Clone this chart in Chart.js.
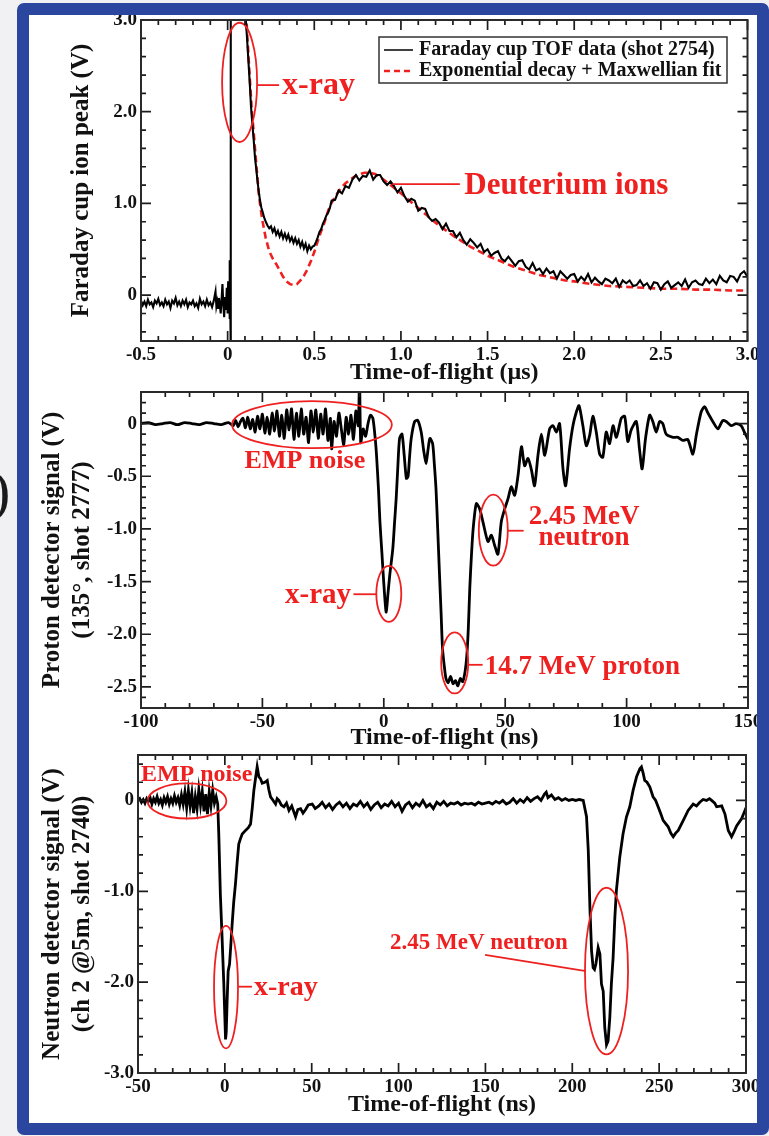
<!DOCTYPE html>
<html><head><meta charset="utf-8">
<script src="https://cdn.jsdelivr.net/npm/chart.js@4.4.1/dist/chart.umd.min.js"></script>
<style>
html,body{margin:0;padding:0;background:#f1f1f3;width:769px;height:1136px;overflow:hidden;}
#inner{position:absolute;left:29px;top:15px;width:728px;height:1108px;background:#fff;z-index:0;}
#frame{position:absolute;left:17px;top:3px;width:752px;height:1132px;box-sizing:border-box;border:12px solid #2a469f;border-radius:7px;z-index:5;pointer-events:none;}
canvas{position:absolute;left:0;z-index:1;}
.frag{position:absolute;font-family:"Liberation Serif",serif;color:#1a1a1a;z-index:6;line-height:1;}
</style></head><body>
<div id="inner"></div>
<canvas id="c1" width="769" height="395" style="top:0px"></canvas>
<canvas id="c2" width="769" height="375" style="top:380px"></canvas>
<canvas id="c3" width="769" height="386" style="top:750px"></canvas>
<div id="frame"></div>
<div class="frag" style="left:-9px;top:462px;font-size:58px;">)</div>
<script>
const FONT = '"Liberation Serif", "Times New Roman", serif';
const RED = '#ee2020';

// ---------- Panel 1: Faraday cup (time in µs, signal in V) ----------
const faradayTOF = [
[-0.50,-0.06],[-0.49,-0.11],[-0.48,-0.07],[-0.47,-0.12],[-0.46,-0.05],[-0.45,-0.10],[-0.44,-0.08],[-0.43,-0.13],[-0.42,-0.06],[-0.41,-0.09],
[-0.40,-0.04],[-0.39,-0.11],[-0.38,-0.08],[-0.37,-0.12],[-0.36,-0.05],[-0.35,-0.10],[-0.34,-0.07],[-0.33,-0.14],[-0.32,-0.06],[-0.31,-0.09],
[-0.30,-0.03],[-0.29,-0.11],[-0.28,-0.07],[-0.27,-0.12],[-0.26,-0.06],[-0.25,-0.10],[-0.24,-0.05],[-0.23,-0.13],[-0.22,-0.08],[-0.21,-0.10],
[-0.20,-0.06],[-0.19,-0.12],[-0.18,-0.09],[-0.17,-0.14],[-0.16,-0.04],[-0.15,-0.10],[-0.14,-0.07],[-0.13,-0.12],[-0.12,-0.05],[-0.11,-0.11],
[-0.10,-0.08],[-0.09,-0.13],[-0.08,-0.06],[-0.07,0.04],[-0.065,-0.12],[-0.06,-0.07],[-0.055,-0.14],[-0.05,-0.03],[-0.045,-0.11],[-0.04,-0.20],
[-0.035,-0.05],[-0.03,0.12],[-0.025,-0.10],[-0.02,-0.24],[-0.015,-0.02],[-0.01,-0.16],[-0.005,0.08],[0.000,-0.20],[0.003,0.15],[0.006,-0.14],
[0.009,0.05],[0.011,-0.26],[0.013,0.38],[0.015,-0.10],[0.017,-0.62],[0.019,3.6],[0.04,3.9],[0.07,3.8],[0.095,3.3],[0.105,3.0],
[0.112,2.80],[0.120,2.55],[0.128,2.30],[0.135,2.05],[0.142,1.88],[0.150,1.70],[0.158,1.50],[0.165,1.38],[0.172,1.25],[0.180,1.12],
[0.188,1.02],[0.195,0.95],[0.203,0.90],[0.21,0.85],[0.22,0.80],[0.23,0.76],[0.24,0.73],[0.25,0.75],[0.26,0.69],[0.27,0.73],
[0.28,0.66],[0.29,0.70],[0.30,0.64],[0.31,0.69],[0.32,0.62],[0.33,0.67],[0.34,0.61],[0.35,0.66],[0.36,0.59],[0.37,0.63],
[0.38,0.57],[0.39,0.62],[0.40,0.56],[0.41,0.60],[0.42,0.53],[0.43,0.58],[0.44,0.51],[0.45,0.56],[0.46,0.48],[0.47,0.54],
[0.48,0.50],[0.49,0.53],[0.50,0.54],[0.51,0.58],[0.52,0.63],[0.53,0.69],[0.54,0.72],[0.55,0.78],[0.56,0.82],[0.57,0.87],
[0.58,0.90],[0.59,0.95],[0.60,1.03],[0.62,1.04],[0.64,1.14],[0.66,1.11],[0.68,1.19],[0.70,1.17],[0.72,1.26],[0.74,1.31],
[0.76,1.25],[0.78,1.30],[0.80,1.29],[0.82,1.36],[0.84,1.26],[0.86,1.31],[0.88,1.31],[0.90,1.24],[0.92,1.20],[0.94,1.24],
[0.96,1.19],[0.98,1.12],[1.00,1.17],[1.02,1.08],[1.04,1.02],[1.06,1.05],[1.08,1.03],[1.10,0.92],[1.12,0.95],[1.14,0.94],
[1.16,0.85],[1.18,0.81],[1.20,0.83],[1.22,0.79],[1.24,0.72],[1.26,0.78],[1.28,0.70],[1.30,0.70],[1.32,0.63],[1.34,0.68],
[1.36,0.60],[1.38,0.55],[1.40,0.61],[1.42,0.57],[1.44,0.52],[1.46,0.56],[1.48,0.47],[1.50,0.50],[1.52,0.43],[1.54,0.46],
[1.56,0.48],[1.58,0.40],[1.60,0.37],[1.62,0.42],[1.64,0.37],[1.66,0.32],[1.68,0.37],[1.70,0.38],[1.72,0.31],[1.74,0.28],
[1.76,0.35],[1.78,0.27],[1.80,0.29],[1.82,0.23],[1.84,0.29],[1.86,0.24],[1.88,0.26],[1.90,0.18],[1.92,0.26],[1.94,0.22],
[1.96,0.18],[1.98,0.22],[2.00,0.23],[2.02,0.15],[2.04,0.20],[2.06,0.16],[2.08,0.23],[2.10,0.14],[2.12,0.19],[2.14,0.15],
[2.16,0.12],[2.18,0.18],[2.20,0.16],[2.22,0.13],[2.24,0.18],[2.26,0.09],[2.28,0.16],[2.30,0.13],[2.32,0.16],[2.34,0.10],
[2.36,0.11],[2.38,0.16],[2.40,0.10],[2.42,0.13],[2.44,0.07],[2.46,0.14],[2.48,0.13],[2.50,0.06],[2.52,0.12],[2.54,0.15],
[2.56,0.08],[2.58,0.11],[2.60,0.14],[2.62,0.10],[2.64,0.17],[2.66,0.08],[2.68,0.14],[2.70,0.16],[2.72,0.12],[2.74,0.11],
[2.76,0.18],[2.78,0.13],[2.80,0.17],[2.82,0.12],[2.84,0.21],[2.86,0.16],[2.88,0.14],[2.90,0.21],[2.92,0.20],[2.94,0.15],
[2.96,0.23],[2.98,0.26],[3.00,0.20]
];
const faradayFit = [
[0.10,3.2],[0.11,2.95],[0.12,2.62],[0.13,2.30],[0.14,2.00],[0.15,1.78],[0.16,1.55],[0.17,1.32],[0.18,1.10],[0.19,0.95],
[0.20,0.82],[0.22,0.62],[0.24,0.48],[0.26,0.40],[0.28,0.34],[0.30,0.27],[0.32,0.20],[0.34,0.15],[0.36,0.12],[0.38,0.11],
[0.40,0.12],[0.42,0.16],[0.44,0.21],[0.46,0.28],[0.48,0.37],[0.50,0.47],[0.52,0.59],[0.54,0.70],[0.56,0.80],[0.58,0.92],
[0.60,1.01],[0.62,1.07],[0.64,1.13],[0.66,1.18],[0.68,1.22],[0.70,1.25],[0.73,1.29],[0.76,1.32],[0.79,1.335],[0.82,1.335],
[0.85,1.32],[0.88,1.29],[0.92,1.23],[0.96,1.17],[1.00,1.11],[1.05,1.03],[1.10,0.95],[1.15,0.87],[1.20,0.79],[1.25,0.72],
[1.30,0.65],[1.35,0.59],[1.40,0.53],[1.45,0.48],[1.50,0.43],[1.55,0.39],[1.60,0.35],[1.65,0.31],[1.70,0.28],[1.75,0.25],
[1.80,0.22],[1.85,0.20],[1.90,0.18],[1.95,0.16],[2.00,0.15],[2.10,0.12],[2.20,0.10],[2.30,0.09],[2.40,0.08],[2.50,0.07],
[2.60,0.07],[2.70,0.06],[2.80,0.06],[2.90,0.05],[3.00,0.05]
];
const xTicks1 = [-0.5,0,0.5,1.0,1.5,2.0,2.5,3.0];
const xLabels1 = ['-0.5','0','0.5','1.0','1.5','2.0','2.5','3.0'];
const yTicks1 = [0,1,2,3];
const yLabels1 = ['0','1.0','2.0','3.0'];

// ---------- Panel 2: proton detector (time in ns, signal in V) ----------
const protonSignal = [
[-100,0.00],[-97,0.01],[-94,-0.01],[-91,0.00],[-88,0.01],[-85,-0.01],[-82,0.01],[-79,0.00],[-76,-0.01],[-73,0.01],
[-70,0.00],[-67,-0.01],[-64,0.01],[-62,-0.02],[-61,0.03],[-60,-0.03],[-59,0.02],[-58,0.05],[-57,-0.04],[-56,0.06],
[-55,-0.05],[-54,0.04],[-53,-0.08],[-52,0.07],[-51,-0.05],[-50,0.09],[-49,-0.09],[-48,0.06],[-47,-0.10],[-46,0.10],
[-45,-0.07],[-44,0.12],[-43,-0.12],[-42,0.08],[-41,-0.14],[-40,0.13],[-39,-0.06],[-38,0.14],[-37,-0.15],[-36,0.10],
[-35,-0.12],[-34,0.14],[-33,-0.10],[-32,0.06],[-31,-0.18],[-30,0.12],[-29,-0.08],[-28,0.13],[-27,-0.14],[-26,0.09],
[-25,-0.10],[-24,0.14],[-23,-0.16],[-22,0.05],[-21.5,-0.24],[-20.5,0.02],[-19.5,-0.12],[-18.5,0.10],[-17.5,-0.05],[-16.5,-0.20],
[-15.5,0.06],[-14.5,-0.10],[-13.5,0.08],[-12.5,-0.15],[-11.5,0.12],[-10.5,-0.02],[-10,0.45],[-9.5,-0.18],[-8.5,-0.05],[-7.5,-0.12],
[-6.5,0.00],[-5.5,0.08],[-4.5,0.05],[-3.5,-0.15],[-3,-0.30],[-2.2,-0.62],[-1.6,-0.93],[-0.8,-1.22],[-0.3,-1.41],[0.4,-1.65],
[1.0,-1.79],[1.7,-1.62],[2.4,-1.45],[3.7,-1.19],[4.4,-0.95],[5.1,-0.71],[5.8,-0.40],[6.5,-0.14],[7.5,-0.10],[8.4,-0.30],
[9.3,-0.52],[10,-0.50],[10.6,-0.32],[11.3,-0.14],[12.7,0.02],[14,0.03],[15.4,-0.08],[16.4,-0.25],[17.4,-0.38],[18.2,-0.25],
[19,-0.14],[20.1,-0.19],[20.8,-0.38],[21.5,-0.62],[22.2,-1.00],[22.9,-1.41],[23.6,-1.80],[24.2,-2.14],[25,-2.32],[25.6,-2.42],
[26.5,-2.46],[27.5,-2.40],[28.5,-2.47],[29.5,-2.44],[30.5,-2.49],[31.5,-2.42],[32.5,-2.45],[33.5,-2.35],[34.2,-2.20],[34.8,-1.95],
[35.4,-1.57],[36.1,-1.25],[36.8,-1.00],[38.1,-0.76],[39.5,-0.81],[40.9,-0.94],[42.9,-1.12],[44.3,-1.06],[45.7,-1.16],[47.0,-1.24],
[48.4,-0.93],[49.8,-0.81],[51.2,-0.71],[52.5,-0.60],[53.9,-0.68],[55.3,-0.49],[56.7,-0.22],[58.0,-0.40],[59.4,-0.33],[60.8,-0.44],
[62.1,-0.59],[63.5,-0.30],[64.9,-0.10],[66.3,-0.30],[68.3,-0.05],[69.7,-0.02],[71.1,-0.08],[72.4,0.00],[73.8,-0.43],[74.9,-0.59],
[76.5,-0.24],[77.9,-0.02],[79.3,0.11],[80.4,0.17],[82.0,-0.02],[83.4,-0.21],[84.8,-0.11],[86.1,0.07],[87.5,-0.08],[88.9,-0.29],
[90.2,-0.32],[91.6,-0.08],[93.0,-0.19],[94.4,-0.02],[95.8,-0.13],[97.8,0.05],[99.2,0.07],[100.5,-0.17],[101.9,-0.06],[104.0,0.02],
[105.3,-0.24],[106.4,-0.43],[107.8,-0.14],[109.5,0.08],[110.8,0.02],[112.2,-0.08],[113.6,0.02],[114.9,0.00],[116.3,-0.10],[119.1,-0.13],
[121.1,-0.13],[123.2,-0.16],[125.2,-0.15],[127.3,-0.29],[128.7,-0.11],[130.7,0.11],[132.1,0.16],[133.5,0.10],[135.5,0.02],[137.6,-0.05],
[139.6,0.03],[141.0,0.02],[143.1,-0.02],[145.1,0.00],[147.2,-0.02],[148.5,-0.08],[150,-0.15]
];
const xTicks2 = [-100,-50,0,50,100,150];
const xLabels2 = ['-100','-50','0','50','100','150'];
const yTicks2 = [-2.5,-2.0,-1.5,-1.0,-0.5,0];
const yLabels2 = ['-2.5','-2.0','-1.5','-1.0','-0.5','0'];

// ---------- Panel 3: neutron detector (time in ns, signal in V) ----------
const neutronSignal = [
[-50,0.00],[-49,0.02],[-48,-0.02],[-47,0.01],[-46,-0.03],[-45,0.02],[-44,-0.01],[-43,0.03],[-42,-0.04],[-41,0.02],
[-40,-0.02],[-39,0.04],[-38,-0.03],[-37,0.01],[-36,-0.05],[-35,0.03],[-34,-0.02],[-33,0.04],[-32,-0.04],[-31,0.02],
[-30,-0.03],[-29,0.05],[-28,-0.02],[-27,0.03],[-26,-0.05],[-25,0.06],[-24,-0.04],[-23,0.09],[-22,-0.08],[-21,0.11],
[-20,-0.06],[-19,0.08],[-18,-0.14],[-17,0.04],[-16,-0.09],[-15,0.12],[-14,-0.05],[-13,0.10],[-12,-0.12],[-11,0.07],
[-10,-0.15],[-9,0.09],[-8,-0.06],[-7,0.11],[-6,-0.03],[-5,0.04],[-4.1,-0.04],[-3.5,-0.37],[-2.6,-1.03],[-1.6,-1.51],
[-0.6,-2.02],[0,-2.39],[0.4,-2.63],[0.8,-2.55],[1.3,-2.21],[1.9,-1.88],[2.7,-1.80],[3.4,-1.60],[4.2,-1.36],[5.1,-1.12],
[6.1,-0.92],[7,-0.70],[8,-0.48],[9,-0.42],[10,-0.37],[11.9,-0.33],[13.5,-0.30],[14.8,-0.26],[15.8,-0.08],[16.7,0.11],
[17.7,0.25],[18.6,0.37],[19.6,0.26],[20.5,0.24],[21.5,0.19],[23,0.20],[24.4,0.22],[25.3,0.12],[26.3,0.04],[27.8,0.00],
[29.2,-0.04],[30.1,0.02],[31.1,0.00],[32.5,-0.05],[34,-0.07],[35.5,-0.03],[36.9,-0.11],[38.5,-0.06],[40.7,-0.18],[42,-0.10],
[43.6,-0.09],[45,-0.14],[46.5,-0.10],[48,-0.05],[50.3,-0.04],[52,-0.09],[54.1,-0.06],[56,-0.02],[58,-0.08],[60,-0.04],
[62,-0.10],[64,-0.05],[66,-0.02],[68,-0.07],[70,-0.03],[72,-0.09],[74,-0.04],[76,-0.06],[78,-0.01],[80,-0.07],
[82,-0.03],[84,-0.10],[86,-0.05],[88,-0.02],[90,-0.08],[92,-0.04],[94,-0.06],[96,-0.01],[98,-0.07],[100,-0.03],
[102,-0.12],[104,-0.05],[106,-0.02],[108,-0.08],[110,-0.03],[112,-0.06],[114,0.00],[116,-0.07],[118,-0.04],[120,-0.09],
[122,-0.02],[124,-0.05],[126,-0.01],[128,-0.06],[130,-0.03],[132,-0.04],[134,-0.02],[136,-0.05],[138,-0.03],[140,-0.04],
[142,-0.03],[144,-0.05],[146,-0.02],[148,-0.04],[150,-0.03],[152,-0.02],[154,-0.04],[156,-0.01],[158,-0.03],[160,0.00],
[162,-0.04],[164,-0.02],[166,0.02],[168,-0.03],[170,0.01],[172,-0.02],[174,0.03],[176,-0.01],[178,0.02],[180,0.04],
[182,0.00],[184,0.07],[185,0.09],[186,0.03],[188,0.06],[190,0.01],[192,0.03],[194,0.00],[196,0.02],[198,0.00],
[200,0.01],[202,0.00],[204,0.01],[206.3,0.00],[208.2,-0.18],[209.2,-0.55],[210.2,-1.21],[211.1,-1.66],[212,-1.84],[212.8,-1.86],
[213.6,-1.80],[214.9,-1.62],[215.9,-1.69],[216.8,-2.02],[217.8,-2.10],[218.7,-2.50],[219.7,-2.69],[220.6,-2.65],[221.6,-2.39],[222.5,-2.02],
[223.5,-1.73],[224.5,-1.29],[225.4,-0.99],[227.3,-0.63],[229.2,-0.37],[231.2,-0.18],[233.1,-0.07],[235,0.11],[237,0.26],[238.9,0.35],
[239.8,0.37],[240.8,0.30],[241.7,0.22],[243,0.20],[244.6,0.15],[246.5,0.04],[248,0.00],[249.4,-0.07],[251,-0.15],[252.3,-0.22],
[255.2,-0.29],[256.7,-0.36],[258.1,-0.40],[259.5,-0.36],[261,-0.33],[263.9,-0.22],[266.7,-0.11],[269.6,-0.04],[271.5,-0.06],[273.4,-0.02],
[275.3,0.01],[277.3,0.00],[279,0.02],[280.2,0.00],[282,-0.03],[283.1,-0.07],[286,-0.06],[287.9,-0.15],[289.8,-0.33],[291.7,-0.40],
[293,-0.35],[294.6,-0.28],[297.5,-0.20],[299.4,-0.11],[300,-0.08]
];
const xTicks3 = [-50,0,50,100,150,200,250,300];
const xLabels3 = ['-50','0','50','100','150','200','250','300'];
const yTicks3 = [-3,-2,-1,0];
const yLabels3 = ['-3.0','-2.0','-1.0','0'];

// ---------- plugins ----------
const frameTicksPlugin = {
  id: 'frameTicks',
  afterDraw(chart, args, o) {
    const {ctx, chartArea: a, scales: {x, y}} = chart;
    const isMajor = (arr, v, st) => arr.some(m => Math.abs(m - v) < st * 1e-3);
    ctx.save();
    ctx.strokeStyle = '#1c1c1c';
    ctx.lineWidth = 1.7;
    ctx.beginPath();
    let i0 = Math.ceil(x.min / o.xMinor - 1e-9), i1 = Math.floor(x.max / o.xMinor + 1e-9);
    for (let i = i0; i <= i1; i++) {
      const v = i * o.xMinor, px = x.getPixelForValue(v);
      const L = isMajor(o.xMajor, v, o.xMinor) ? 10 : 5;
      ctx.moveTo(px, a.bottom); ctx.lineTo(px, a.bottom - L);
      ctx.moveTo(px, a.top); ctx.lineTo(px, a.top + L);
    }
    i0 = Math.ceil(y.min / o.yMinor - 1e-9); i1 = Math.floor(y.max / o.yMinor + 1e-9);
    for (let i = i0; i <= i1; i++) {
      const v = i * o.yMinor, py = y.getPixelForValue(v);
      const L = isMajor(o.yMajor, v, o.yMinor) ? 10 : 5;
      ctx.moveTo(a.left, py); ctx.lineTo(a.left + L, py);
      ctx.moveTo(a.right, py); ctx.lineTo(a.right - L, py);
    }
    ctx.stroke();
    ctx.lineWidth = 2;
    ctx.strokeStyle = '#2a2a2a';
    ctx.strokeRect(a.left, a.top, a.right - a.left, a.bottom - a.top);
    ctx.restore();
  }
};

const annotPlugin = {
  id: 'annot',
  afterDatasetsDraw(chart, args, o) {
    const {ctx, scales: {x, y}} = chart;
    const X = v => x.getPixelForValue(v), Y = v => y.getPixelForValue(v);
    ctx.save();
    for (const it of o.items) {
      if (it.type === 'ellipse') {
        ctx.beginPath();
        ctx.ellipse(X(it.x), Y(it.y), Math.abs(X(it.x + it.rx) - X(it.x)), Math.abs(Y(it.y + it.ry) - Y(it.y)), 0, 0, Math.PI * 2);
        ctx.strokeStyle = RED; ctx.lineWidth = 1.8; ctx.stroke();
      } else if (it.type === 'line') {
        ctx.beginPath();
        ctx.moveTo(X(it.x1), Y(it.y1)); ctx.lineTo(X(it.x2), Y(it.y2));
        ctx.strokeStyle = RED; ctx.lineWidth = 1.8; ctx.stroke();
      } else if (it.type === 'text') {
        ctx.font = 'bold ' + it.size + 'px ' + FONT;
        ctx.fillStyle = RED;
        ctx.textAlign = it.align || 'left';
        ctx.textBaseline = 'middle';
        ctx.fillText(it.text, X(it.x), Y(it.y));
      }
    }
    ctx.restore();
  }
};

const legendPlugin = {
  id: 'boxLegend',
  afterDraw(chart, args, o) {
    if (!o || !o.rows) return;
    const {ctx, chartArea: a} = chart;
    const bx = a.left + o.left, by = a.top + o.top;
    ctx.save();
    ctx.fillStyle = '#fff';
    ctx.fillRect(bx, by, o.width, o.height);
    ctx.strokeStyle = '#333'; ctx.lineWidth = 1.5;
    ctx.strokeRect(bx, by, o.width, o.height);
    ctx.font = 'bold 20px ' + FONT;
    ctx.textBaseline = 'middle';
    o.rows.forEach((r, i) => {
      const yy = by + o.rowY[i];
      ctx.beginPath();
      ctx.setLineDash(r.dash || []);
      ctx.strokeStyle = r.color; ctx.lineWidth = r.width;
      ctx.moveTo(bx + 5, yy); ctx.lineTo(bx + 34, yy); ctx.stroke();
      ctx.setLineDash([]);
      ctx.fillStyle = '#111';
      ctx.textAlign = 'left';
      ctx.fillText(r.text, bx + 40, yy);
    });
    ctx.restore();
  }
};

function makeChart(id, o) {
  const tickFont = {family: FONT, size: 19, weight: 'bold'};
  return new Chart(document.getElementById(id), {
    type: 'line',
    data: { datasets: o.datasets },
    options: {
      responsive: false, animation: false, devicePixelRatio: 1,
      layout: { padding: { left: 0, top: o.area.top, right: o.W - o.area.right, bottom: 0 } },
      elements: { point: { radius: 0 }, line: { tension: 0 } },
      plugins: { legend: { display: false }, tooltip: { enabled: false },
        frameTicks: o.frame, annot: { items: o.annot }, boxLegend: o.legend || {} },
      scales: {
        x: {
          type: 'linear', position: 'bottom', min: o.x.min, max: o.x.max,
          afterBuildTicks: s => { s.ticks = o.x.ticks.map(v => ({value: v})); },
          ticks: { callback: (v, i) => o.x.labels[i], font: tickFont, color: '#111', padding: 3, maxRotation: 0, minRotation: 0, autoSkip: false },
          grid: { display: false, drawTicks: false },
          border: { display: false },
          title: { display: true, text: o.x.title, color: '#111',
            font: {family: FONT, size: 24, weight: 'bold', lineHeight: 1}, padding: {top: 0, bottom: o.x.titlePad} },
          afterFit: s => { s.height = o.H - o.area.bottom; s.paddingLeft = 0; s.paddingRight = 0; }
        },
        y: {
          type: 'linear', position: 'left', min: o.y.min, max: o.y.max,
          afterBuildTicks: s => { s.ticks = o.y.ticks.map(v => ({value: v})); },
          ticks: { callback: (v, i) => o.y.labels[i], font: tickFont, color: '#111', padding: 4, autoSkip: false },
          grid: { display: false, drawTicks: false },
          border: { display: false },
          title: { display: true, text: o.y.title, color: '#111',
            font: {family: FONT, size: 25, weight: 'bold', lineHeight: 1.2}, padding: {top: o.y.titlePad, bottom: 0} },
          afterFit: s => { s.width = o.area.left; s.paddingTop = 0; s.paddingBottom = 0; }
        }
      }
    },
    plugins: [frameTicksPlugin, annotPlugin, legendPlugin]
  });
}

const toXY = arr => arr.map(p => ({x: p[0], y: p[1]}));

// Panel 1
makeChart('c1', {
  W: 769, H: 395,
  area: {left: 141, right: 747.5, top: 20, bottom: 341},
  x: {min: -0.5, max: 3.0, ticks: xTicks1, labels: xLabels1, title: 'Time-of-flight (\u00b5s)', titlePad: 10},
  y: {min: -0.5, max: 3.0, ticks: yTicks1, labels: yLabels1, title: 'Faraday cup ion peak (V)', titlePad: 67},
  frame: {xMinor: 0.1, yMinor: 0.2, xMajor: xTicks1, yMajor: yTicks1},
  datasets: [
    {data: toXY(faradayTOF), borderColor: '#000', borderWidth: 2.1},
    {data: toXY(faradayFit), borderColor: RED, borderWidth: 2.6, borderDash: [7, 4]}
  ],
  annot: [
    {type: 'ellipse', x: 0.069, y: 2.32, rx: 0.101, ry: 0.65},
    {type: 'line', x1: 0.172, y1: 2.29, x2: 0.297, y2: 2.29},
    {type: 'text', x: 0.314, y: 2.28, text: 'x-ray', size: 32},
    {type: 'line', x1: 0.95, y1: 1.21, x2: 1.34, y2: 1.21},
    {type: 'text', x: 1.366, y: 1.19, text: 'Deuterium ions', size: 31}
  ],
  legend: {left: 238, top: 17, width: 348, height: 46, rowY: [13, 34],
    rows: [
      {text: 'Faraday cup TOF data (shot 2754)', color: '#000', width: 1.5},
      {text: 'Exponential decay + Maxwellian fit', color: RED, width: 2.6, dash: [6, 4]}
    ]}
});

// Panel 2
makeChart('c2', {
  W: 769, H: 375,
  area: {left: 141, right: 748, top: 12, bottom: 328},
  x: {min: -100, max: 150, ticks: xTicks2, labels: xLabels2, title: 'Time-of-flight (ns)', titlePad: 5},
  y: {min: -2.7, max: 0.3, ticks: yTicks2, labels: yLabels2, title: ['Proton detector signal (V)', '(135\u00b0, shot 2777)'], titlePad: 38},
  frame: {xMinor: 10, yMinor: 0.1, xMajor: xTicks2, yMajor: yTicks2},
  datasets: [
    {data: toXY(protonSignal), borderColor: '#000', borderWidth: 2.8, tension: 0.25}
  ],
  annot: [
    {type: 'ellipse', x: -29.6, y: -0.01, rx: 32.9, ry: 0.223},
    {type: 'text', x: -32.5, y: -0.36, text: 'EMP noise', size: 26, align: 'center'},
    {type: 'ellipse', x: 2.06, y: -1.616, rx: 5.14, ry: 0.266},
    {type: 'line', x1: -12.5, y1: -1.62, x2: -3.1, y2: -1.62},
    {type: 'text', x: -13.5, y: -1.635, text: 'x-ray', size: 29, align: 'right'},
    {type: 'ellipse', x: 29.2, y: -2.272, rx: 5.56, ry: 0.29},
    {type: 'line', x1: 34.8, y1: -2.29, x2: 40.7, y2: -2.29},
    {type: 'text', x: 41.6, y: -2.31, text: '14.7 MeV proton', size: 27},
    {type: 'ellipse', x: 45.1, y: -1.012, rx: 5.97, ry: 0.337},
    {type: 'line', x1: 51.0, y1: -1.017, x2: 57.6, y2: -1.017},
    {type: 'text', x: 82.5, y: -0.884, text: '2.45 MeV', size: 27, align: 'center'},
    {type: 'text', x: 82.5, y: -1.084, text: 'neutron', size: 27, align: 'center'}
  ]
});

// Panel 3
makeChart('c3', {
  W: 769, H: 386,
  area: {left: 138, right: 746, top: 5, bottom: 323},
  x: {min: -50, max: 300, ticks: xTicks3, labels: xLabels3, title: 'Time-of-flight (ns)', titlePad: 19},
  y: {min: -3.0, max: 0.5, ticks: yTicks3, labels: yLabels3, title: ['Neutron detector signal (V)', '(ch 2 @5m, shot 2740)'], titlePad: 38},
  frame: {xMinor: 10, yMinor: 0.2, xMajor: xTicks3, yMajor: yTicks3},
  datasets: [
    {data: toXY(neutronSignal), borderColor: '#000', borderWidth: 2.8}
  ],
  annot: [
    {type: 'ellipse', x: -21.8, y: -0.006, rx: 22.7, ry: 0.193},
    {type: 'text', x: -48.3, y: 0.287, text: 'EMP noise', size: 24},
    {type: 'ellipse', x: 0.66, y: -2.055, rx: 6.9, ry: 0.674},
    {type: 'line', x1: 7.6, y1: -2.05, x2: 15.6, y2: -2.05},
    {type: 'text', x: 16.8, y: -2.066, text: 'x-ray', size: 28},
    {type: 'ellipse', x: 219.7, y: -1.878, rx: 12.4, ry: 0.917},
    {type: 'line', x1: 149.8, y1: -1.70, x2: 207.9, y2: -1.878},
    {type: 'text', x: 95.1, y: -1.569, text: '2.45 MeV neutron', size: 23}
  ]
});
</script>
</body></html>
